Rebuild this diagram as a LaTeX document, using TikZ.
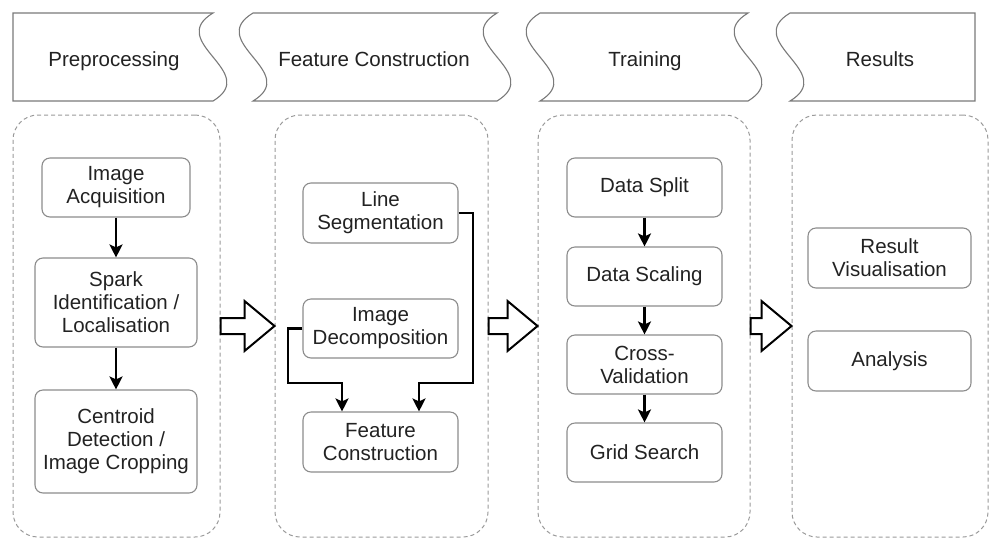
\documentclass[tikz,border=0pt]{standalone}
\usepackage{fontspec}
\setmainfont{Liberation Sans}
\usepackage{tikz}
\usetikzlibrary{calc,arrows.meta}

\definecolor{inkgray}{HTML}{222222}
\definecolor{boxgray}{HTML}{8C8C8C}
\definecolor{dashgray}{HTML}{9A9A9A}
\definecolor{tabgray}{HTML}{7A7A7A}

\begin{document}
\begin{tikzpicture}[x=1pt, y=-1pt,
	tab/.style={draw=tabgray, line width=1.1pt, fill=white},
	title/.style={text=inkgray, font=\fontsize{20.5}{23}\selectfont, text height=15pt, text depth=4.5pt},
	phase/.style={draw=dashgray, line width=1pt, dash pattern=on 4pt off 3pt, rounded corners=25pt, minimum height=422pt, inner sep=0pt},
	stage/.style={draw=boxgray, line width=1.1pt, rounded corners=8pt, align=center, inner sep=0pt, text=inkgray, font=\fontsize{20.5}{23}\selectfont},
	flow/.style={-{Stealth[length=13pt,width=13pt,inset=3pt]}, line width=2.4pt, black},
	blockarrow/.style={draw=black, line width=2pt, fill=white, line join=miter}]

	\useasboundingbox (0,0) rectangle (990,539);

	% header tabs
	\draw[tab] (13,13) -- (213,13) .. controls (165,42) and (261,72) .. (213,101) -- (13,101) -- cycle;
	\draw[tab] (253,13) -- (497,13) .. controls (449,42) and (545,72) .. (497,101) -- (253,101) .. controls (301,72) and (205,42) .. (253,13) -- cycle;
	\draw[tab] (540,13) -- (748,13) .. controls (700,42) and (796,72) .. (748,101) -- (540,101) .. controls (588,72) and (492,42) .. (540,13) -- cycle;
	\draw[tab] (790,13) -- (975,13) -- (975,101) -- (790,101) .. controls (838,72) and (742,42) .. (790,13) -- cycle;

	% header labels
	\node[title] (tprep)  at (114,61.5) {Preprocessing};
	\node[title] (tfeat)  at (374,61.5) {Feature Construction};
	\node[title] (ttrain) at (645,61.5) {Training};
	\node[title] (tres)   at (880,61.5) {Results};

	% phases
	\node[phase, minimum width=207pt] (prep)  at (116.5,326) {};
	\node[phase, minimum width=213pt] (feat)  at (381.5,326) {};
	\node[phase, minimum width=212pt] (train) at (644,326) {};
	\node[phase, minimum width=196pt] (res)   at (890,326) {};

	% block arrows between phases
	\foreach \a/\b in {prep/feat, feat/train, train/res}
		\draw[blockarrow] ($(\a.east)+(0,-8)$) -- ($(\b.west)+(-30,-8)$) -- ($(\b.west)+(-30,-25)$)
			-- (\b.west) -- ($(\b.west)+(-30,25)$) -- ($(\b.west)+(-30,8)$) -- ($(\a.east)+(0,8)$) -- cycle;

	% preprocessing steps
	\node[stage, minimum width=148pt, minimum height=59pt]  (acq)      at (116,187.5) {Image\\Acquisition};
	\node[stage, minimum width=162pt, minimum height=89pt]  (spark)    at (116,302.5) {Spark\\Identification /\\Localisation};
	\node[stage, minimum width=162pt, minimum height=103pt] (centroid) at (116,441.5) {Centroid\\Detection /\\Image Cropping};

	% feature steps
	\node[stage, minimum width=155pt, minimum height=60pt] (lineseg) at (380.5,213)   {Line\\Segmentation};
	\node[stage, minimum width=155pt, minimum height=59pt] (decomp)  at (380.5,328.5) {Image\\Decomposition};
	\node[stage, minimum width=155pt, minimum height=60pt] (featcon) at (380.5,442)   {Feature\\Construction};

	% training steps
	\node[stage, minimum width=155pt, minimum height=59pt] (split)    at (644.5,187.5) {Data Split};
	\node[stage, minimum width=155pt, minimum height=59pt] (scaling)  at (644.5,276.5) {Data Scaling};
	\node[stage, minimum width=155pt, minimum height=59pt] (crossval) at (644.5,364.5) {Cross-\\Validation};
	\node[stage, minimum width=155pt, minimum height=59pt] (grid)     at (644.5,452.5) {Grid Search};

	% result steps
	\node[stage, minimum width=163pt, minimum height=60pt] (resvis)   at (889.5,258) {Result\\Visualisation};
	\node[stage, minimum width=163pt, minimum height=60pt] (analysis) at (889.5,361) {Analysis};

	% connectors
	\draw[flow] (acq) -- (spark);
	\draw[flow] (spark) -- (centroid);

	\draw[flow] (lineseg.east) -| (473,383) -| ([xshift=38.5pt]featcon.north);
	\draw[flow] (decomp.west) -| (288,383) -| ([xshift=-38.5pt]featcon.north);

	\draw[flow] (split) -- (scaling);
	\draw[flow] (scaling) -- (crossval);
	\draw[flow] (crossval) -- (grid);

\end{tikzpicture}
\end{document}
